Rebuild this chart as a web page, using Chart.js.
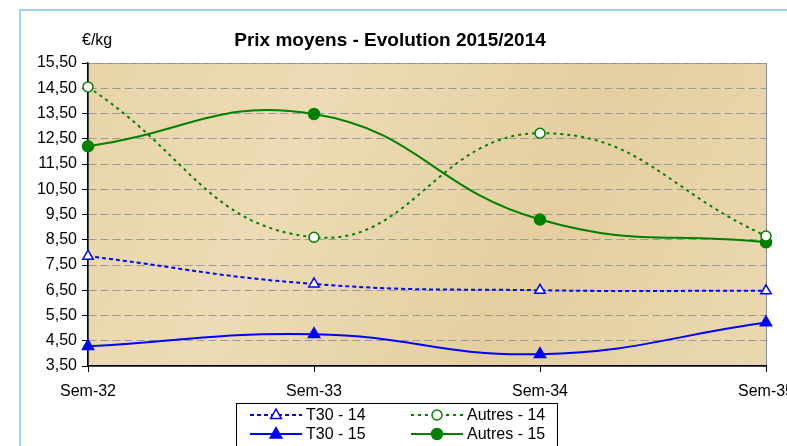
<!DOCTYPE html>
<html>
<head>
<meta charset="utf-8">
<script src="https://cdn.jsdelivr.net/npm/chart.js@4/dist/chart.umd.min.js"></script>
<style>
  html, body { margin: 0; padding: 0; background: #fff; overflow: hidden; }
  #wrap { position: absolute; left: 0; top: 0; width: 830px; height: 446px; }
</style>
</head>
<body>
<div id="wrap"><canvas id="prixChart" width="830" height="446"></canvas></div>
<script>
const semaines = ["Sem-32", "Sem-33", "Sem-34", "Sem-35"];
const t30_14 = [7.85, 6.75, 6.5, 6.48];
const t30_15 = [4.28, 4.76, 3.97, 5.22];
const autres_14 = [14.55, 8.6, 12.72, 8.65];
const autres_15 = [12.2, 13.48, 9.3, 8.4];
const yMin = 3.5, yMax = 15.5, yStep = 1;

const FONT = "'Liberation Sans', Arial, sans-serif";

function fmt(v) {
    return v.toFixed(2).replace(".", ",");
}

// cadre, fond parchemin, titre et légende
const decor = {
    id: "decor",
    beforeDraw(chart) {
        const ctx = chart.ctx;
        const a = chart.chartArea;
        ctx.save();
        ctx.strokeStyle = "#9dd6f0";
        ctx.lineWidth = 2;
        ctx.strokeRect(20, 10, 900, 600);
        const g = ctx.createLinearGradient(a.left, a.top, a.right, a.bottom);
        g.addColorStop(0, "#e8d4a8");
        g.addColorStop(0.3, "#ecdbb5");
        g.addColorStop(0.65, "#e5cfa0");
        g.addColorStop(1, "#ead8b0");
        ctx.fillStyle = g;
        ctx.fillRect(a.left, a.top, a.right - a.left, a.bottom - a.top);
        ctx.strokeStyle = "#8a8a8a";
        ctx.lineWidth = 1;
        ctx.strokeRect(a.left + 0.5, a.top + 0.5, a.right - a.left, a.bottom - a.top);

        ctx.fillStyle = "#000";
        ctx.textBaseline = "middle";
        ctx.textAlign = "left";
        ctx.font = "16px " + FONT;
        ctx.fillText("€/kg", 82, 41);
        ctx.textAlign = "center";
        ctx.font = "bold 19px " + FONT;
        ctx.fillText("Prix moyens - Evolution 2015/2014", 390, 41);
        ctx.restore();
    },
    afterDraw(chart) {
        const ctx = chart.ctx;
        ctx.save();
        ctx.fillStyle = "#fff";
        ctx.fillRect(236, 403, 321, 50);
        ctx.strokeStyle = "#000";
        ctx.lineWidth = 1;
        ctx.strokeRect(236.5, 403.5, 321, 50);
        const slots = [
            [250, 415], [411, 415], [250, 434], [411, 434]
        ];
        chart.data.datasets.forEach((ds, i) => {
            const [x, y] = slots[i];
            ctx.strokeStyle = ds.borderColor;
            ctx.lineWidth = ds.borderWidth;
            ctx.setLineDash(ds.borderDash || []);
            ctx.beginPath();
            ctx.moveTo(x, y);
            ctx.lineTo(x + 52, y);
            ctx.stroke();
            ctx.setLineDash([]);
            const cx = x + 26;
            const r = ds.pointRadius;
            ctx.fillStyle = ds.pointBackgroundColor;
            ctx.strokeStyle = ds.borderColor;
            ctx.lineWidth = 1.5;
            ctx.beginPath();
            if (ds.pointStyle === "triangle") {
                ctx.moveTo(cx, y - r);
                ctx.lineTo(cx + r * 0.9, y + r * 0.6);
                ctx.lineTo(cx - r * 0.9, y + r * 0.6);
                ctx.closePath();
            } else {
                ctx.arc(cx, y, r, 0, Math.PI * 2);
            }
            ctx.fill();
            ctx.stroke();
            ctx.fillStyle = "#000";
            ctx.font = "16px " + FONT;
            ctx.textAlign = "left";
            ctx.textBaseline = "middle";
            ctx.fillText(ds.label, x + 56, y + 1);
        });
        ctx.restore();
    }
};

const ctx = document.getElementById("prixChart").getContext("2d");
new Chart(ctx, {
    type: "line",
    data: {
        labels: semaines,
        datasets: [
            {
                label: "T30 - 14",
                data: t30_14,
                borderColor: "#0000ff",
                borderWidth: 2,
                borderDash: [4, 3],
                pointStyle: "triangle",
                pointRadius: 6,
                pointBackgroundColor: "#ffffff",
                pointBorderColor: "#0000ff",
                pointBorderWidth: 1.5,
            },
            {
                label: "Autres - 14",
                data: autres_14,
                borderColor: "#008000",
                borderWidth: 2,
                borderDash: [3, 4],
                pointStyle: "circle",
                pointRadius: 5,
                pointBackgroundColor: "#ffffff",
                pointBorderColor: "#008000",
                pointBorderWidth: 1.5,
            },
            {
                label: "T30 - 15",
                data: t30_15,
                borderColor: "#0000ff",
                borderWidth: 2,
                pointStyle: "triangle",
                pointRadius: 6.5,
                pointBackgroundColor: "#0000ff",
                pointBorderColor: "#0000ff",
                pointBorderWidth: 1.5,
            },
            {
                label: "Autres - 15",
                data: autres_15,
                borderColor: "#008000",
                borderWidth: 2,
                pointStyle: "circle",
                pointRadius: 5.5,
                pointBackgroundColor: "#008000",
                pointBorderColor: "#008000",
                pointBorderWidth: 1.5,
            },
        ],
    },
    options: {
        responsive: false,
        animation: false,
        devicePixelRatio: 1,
        clip: false,
        elements: { line: { tension: 0.45 } },
        layout: { padding: { left: 0, top: 63, right: 64, bottom: 0 } },
        plugins: {
            legend: { display: false },
            title: { display: false },
            tooltip: { enabled: false },
        },
        scales: {
            x: {
                offset: false,
                afterFit(scale) { scale.height = 80; },
                grid: {
                    drawOnChartArea: false,
                    drawTicks: true,
                    tickLength: 6,
                    tickColor: "#000",
                },
                border: { display: true, color: "#000", width: 1.5 },
                ticks: {
                    color: "#000",
                    font: { family: FONT, size: 16 },
                    padding: 10,
                    maxRotation: 0,
                    autoSkip: false,
                },
            },
            y: {
                min: yMin,
                max: yMax,
                afterFit(scale) { scale.width = 88; },
                grid: {
                    color: "#9a9a9a",
                    lineWidth: 1,
                    tickLength: 6,
                    tickColor: "#000",
                    tickBorderDash: [],
                },
                border: { display: true, color: "#000", width: 1.5, dash: [8, 4] },
                ticks: {
                    stepSize: yStep,
                    color: "#000",
                    padding: 5,
                    font: { family: FONT, size: 16 },
                    callback: (v) => fmt(v),
                },
            },
        },
    },
    plugins: [decor],
});
</script>
</body>
</html>
